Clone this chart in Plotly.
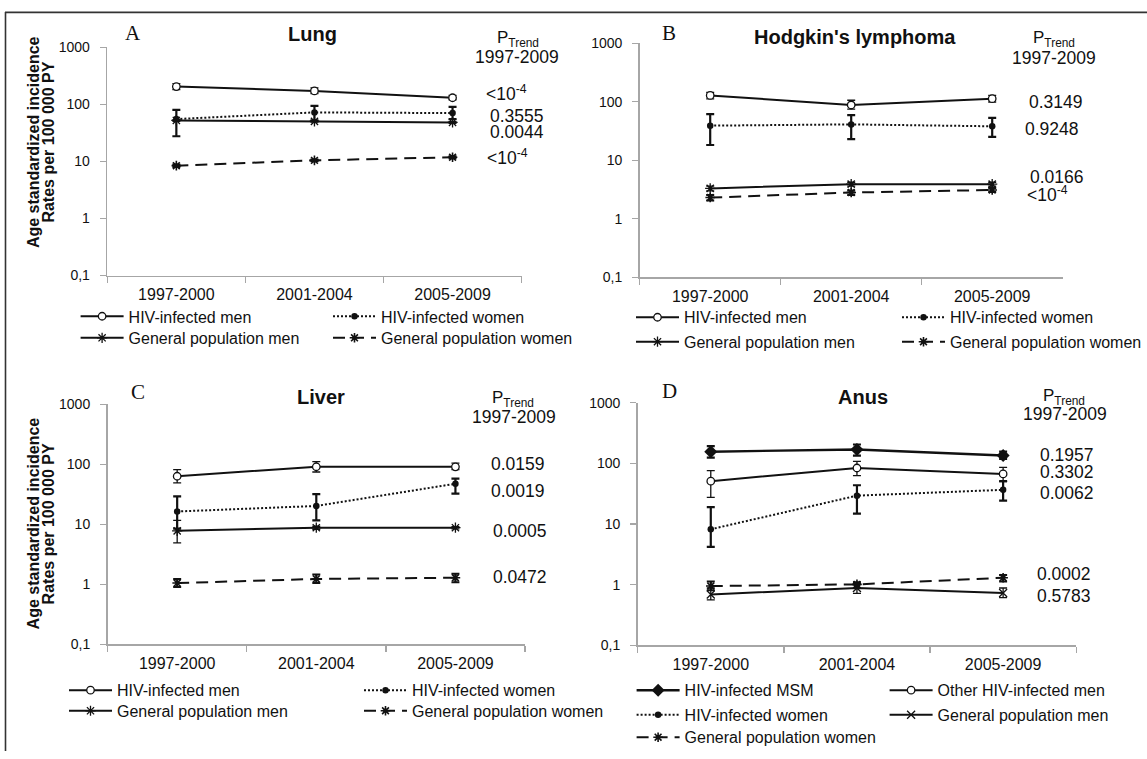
import plotly.graph_objects as go

W, H = 1147, 759

CATEGORIES = ["1997-2000", "2001-2004", "2005-2009"]
Y_TICK_VALUES = [0.1, 1, 10, 100, 1000]
Y_TICK_LABELS = ["0,1", "1", "10", "100", "1000"]

# ---------------- Panel A : Lung ----------------
LUNG_HIV_MEN = [204, 171, 130]
LUNG_HIV_MEN_LO = [181, 154, 119]
LUNG_HIV_MEN_HI = [229, 193, 143]
LUNG_HIV_WOMEN = [55, 72, 70]
LUNG_HIV_WOMEN_LO = [27.5, 52, 55]
LUNG_HIV_WOMEN_HI = [80, 94, 90]
LUNG_GP_MEN = [52, 50, 48]
LUNG_GP_MEN_LO = [50, 48.5, 46.5]
LUNG_GP_MEN_HI = [54, 51.5, 49.5]
LUNG_GP_WOMEN = [8.4, 10.4, 11.8]
LUNG_GP_WOMEN_LO = [8.0, 10.0, 11.3]
LUNG_GP_WOMEN_HI = [8.8, 10.8, 12.3]
LUNG_PTREND = ["<10<sup>-4</sup>", "0.3555", "0.0044", "<10<sup>-4</sup>"]

# ---------------- Panel B : Hodgkin's lymphoma ----------------
HL_HIV_MEN = [128, 88, 113]
HL_HIV_MEN_LO = [112, 75, 99]
HL_HIV_MEN_HI = [145, 106, 128]
HL_HIV_WOMEN = [39, 41, 38]
HL_HIV_WOMEN_LO = [18.2, 22.9, 25]
HL_HIV_WOMEN_HI = [61.6, 59, 52.8]
HL_GP_MEN = [3.3, 3.9, 3.9]
HL_GP_MEN_LO = [3.0, 3.6, 3.6]
HL_GP_MEN_HI = [3.6, 4.2, 4.2]
HL_GP_WOMEN = [2.3, 2.8, 3.1]
HL_GP_WOMEN_LO = [2.05, 2.55, 2.85]
HL_GP_WOMEN_HI = [2.55, 3.05, 3.35]
HL_PTREND = ["0.3149", "0.9248", "0.0166", "<10<sup>-4</sup>"]

# ---------------- Panel C : Liver ----------------
LIV_HIV_MEN = [63.5, 91.4, 91]
LIV_HIV_MEN_LO = [49.4, 74.7, 81.6]
LIV_HIV_MEN_HI = [81.6, 111.6, 104.8]
LIV_HIV_WOMEN = [16.4, 20.3, 47.6]
LIV_HIV_WOMEN_LO = [8.5, 11.7, 32.7]
LIV_HIV_WOMEN_HI = [29.2, 31.9, 58]
LIV_GP_MEN = [7.8, 8.8, 8.8]
LIV_GP_MEN_LO = [4.9, 8.3, 8.4]
LIV_GP_MEN_HI = [11.7, 9.3, 9.2]
LIV_GP_WOMEN = [1.05, 1.23, 1.29]
LIV_GP_WOMEN_LO = [0.9, 1.05, 1.08]
LIV_GP_WOMEN_HI = [1.23, 1.46, 1.5]
LIV_PTREND = ["0.0159", "0.0019", "0.0005", "0.0472"]

# ---------------- Panel D : Anus ----------------
AN_HIV_MSM = [156, 170, 135]
AN_HIV_MSM_LO = [125, 134.6, 119]
AN_HIV_MSM_HI = [193, 205, 156]
AN_OTHER_MEN = [51, 84, 67]
AN_OTHER_MEN_LO = [27.6, 63, 50]
AN_OTHER_MEN_HI = [76, 107.7, 86]
AN_HIV_WOMEN = [8.2, 29.4, 36.7]
AN_HIV_WOMEN_LO = [4.2, 14.9, 24.4]
AN_HIV_WOMEN_HI = [19, 43.6, 51]
AN_GP_MEN = [0.69, 0.88, 0.73]
AN_GP_MEN_LO = [0.56, 0.72, 0.61]
AN_GP_MEN_HI = [0.88, 1.04, 0.88]
AN_GP_WOMEN = [0.95, 1.01, 1.3]
AN_GP_WOMEN_LO = [0.81, 0.88, 1.13]
AN_GP_WOMEN_HI = [1.13, 1.1, 1.45]
AN_PTREND = ["0.1957", "0.3302", "0.0062", "0.0002", "0.5783"]

NAME_HIV_MEN = "HIV-infected men"
NAME_HIV_WOMEN = "HIV-infected women"
NAME_GP_MEN = "General population men"
NAME_GP_WOMEN = "General population women"
NAME_MSM = "HIV-infected MSM"
NAME_OTHER = "Other HIV-infected men"

TITLES = ["Lung", "Hodgkin's lymphoma", "Liver", "Anus"]
LETTERS = ["A", "B", "C", "D"]
PTREND_HEAD = "P<sub>Trend</sub>"
PTREND_YEARS = "1997-2009"
YTITLE_1 = "Age standardized incidence"
YTITLE_2 = "Rates per 100 000 PY"

# ---------------- styles ----------------
INK = "#111111"
AXIS_GREY = "#a6a6a6"
FONT = "Liberation Sans"

STYLES = {
    "hiv_men": dict(line=dict(color=INK, width=2, dash="solid"),
                    marker=dict(symbol="circle", size=7.5, color="white", line=dict(color=INK, width=1.3)),
                    err=1.3),
    "hiv_women": dict(line=dict(color=INK, width=2, dash="2px,2px"),
                      marker=dict(symbol="circle", size=6.5, color=INK, line=dict(color=INK, width=0)),
                      err=2.2),
    "gp_men": dict(line=dict(color=INK, width=2, dash="solid"),
                   marker=dict(symbol="asterisk-open", size=8.5, color=INK, line=dict(color=INK, width=1.3)),
                   err=1.3),
    "gp_women": dict(line=dict(color=INK, width=2, dash="12px,7px"),
                     marker=dict(symbol="asterisk-open", size=8, color=INK, line=dict(color=INK, width=1.6)),
                     err=2.0),
    "msm": dict(line=dict(color=INK, width=2.4, dash="solid"),
                marker=dict(symbol="diamond", size=10, color=INK, line=dict(color=INK, width=0)),
                err=2.2),
    "gp_men_x": dict(line=dict(color=INK, width=2, dash="solid"),
                     marker=dict(symbol="x-thin-open", size=8, color=INK, line=dict(color=INK, width=1.3)),
                     err=1.3),
}

# panel geometry in pixels (left, right, top, bottom)
PANEL_BOX = [
    (107.3, 521.6, 40.0, 273.3),
    (639.7, 1062.7, 36.0, 275.0),
    (107.6, 525.0, 405.0, 650.0),
    (637.7, 1076.2, 403.3, 651.0),
]

PANELS = [
    dict(series=[
        (NAME_HIV_MEN, "hiv_men", LUNG_HIV_MEN, LUNG_HIV_MEN_LO, LUNG_HIV_MEN_HI),
        (NAME_HIV_WOMEN, "hiv_women", LUNG_HIV_WOMEN, LUNG_HIV_WOMEN_LO, LUNG_HIV_WOMEN_HI),
        (NAME_GP_MEN, "gp_men", LUNG_GP_MEN, LUNG_GP_MEN_LO, LUNG_GP_MEN_HI),
        (NAME_GP_WOMEN, "gp_women", LUNG_GP_WOMEN, LUNG_GP_WOMEN_LO, LUNG_GP_WOMEN_HI),
    ], ptrend=LUNG_PTREND),
    dict(series=[
        (NAME_HIV_MEN, "hiv_men", HL_HIV_MEN, HL_HIV_MEN_LO, HL_HIV_MEN_HI),
        (NAME_HIV_WOMEN, "hiv_women", HL_HIV_WOMEN, HL_HIV_WOMEN_LO, HL_HIV_WOMEN_HI),
        (NAME_GP_MEN, "gp_men", HL_GP_MEN, HL_GP_MEN_LO, HL_GP_MEN_HI),
        (NAME_GP_WOMEN, "gp_women", HL_GP_WOMEN, HL_GP_WOMEN_LO, HL_GP_WOMEN_HI),
    ], ptrend=HL_PTREND),
    dict(series=[
        (NAME_HIV_MEN, "hiv_men", LIV_HIV_MEN, LIV_HIV_MEN_LO, LIV_HIV_MEN_HI),
        (NAME_HIV_WOMEN, "hiv_women", LIV_HIV_WOMEN, LIV_HIV_WOMEN_LO, LIV_HIV_WOMEN_HI),
        (NAME_GP_MEN, "gp_men", LIV_GP_MEN, LIV_GP_MEN_LO, LIV_GP_MEN_HI),
        (NAME_GP_WOMEN, "gp_women", LIV_GP_WOMEN, LIV_GP_WOMEN_LO, LIV_GP_WOMEN_HI),
    ], ptrend=LIV_PTREND),
    dict(series=[
        (NAME_MSM, "msm", AN_HIV_MSM, AN_HIV_MSM_LO, AN_HIV_MSM_HI),
        (NAME_OTHER, "hiv_men", AN_OTHER_MEN, AN_OTHER_MEN_LO, AN_OTHER_MEN_HI),
        (NAME_HIV_WOMEN, "hiv_women", AN_HIV_WOMEN, AN_HIV_WOMEN_LO, AN_HIV_WOMEN_HI),
        (NAME_GP_MEN, "gp_men_x", AN_GP_MEN, AN_GP_MEN_LO, AN_GP_MEN_HI),
        (NAME_GP_WOMEN, "gp_women", AN_GP_WOMEN, AN_GP_WOMEN_LO, AN_GP_WOMEN_HI),
    ], ptrend=AN_PTREND),
]

# legend slot per series: (line start x, row centre y)
LEGEND_SLOTS = [
    [(80.6, 315), (333, 315), (80.6, 337), (333, 337)],
    [(636, 316), (902, 316), (636, 341), (902, 341)],
    [(69, 697), (364, 697), (69, 718), (364, 718)],
    [(636.6, 697), (889.6, 697), (636.6, 722), (889.6, 722), (636.6, 745)],
]

# text positions (px)
LETTER_POS = [(133, 26), (668.6, 26), (137.6, 392), (669, 391)]
TITLE_POS = [(312.6, 27), (854.8, 30), (321, 397), (863.4, 397)]
PHEAD_POS = [(518, 32), (1054, 32), (513, 399), (1064, 397)]
PYEARS_POS = [(517, 50), (1054, 51), (514, 418), (1064.6, 415)]
PVAL_POS = [
    [(506, 87), (517, 110), (517, 127), (507, 152)],
    [(1055.5, 96), (1052, 124), (1057, 173), (1047, 190)],
    [(518, 466), (518, 493), (520, 534), (520, 581)],
    [(1067, 457), (1067, 474), (1067, 495), (1063.5, 578), (1063.5, 601)],
]
YTITLE_POS = [((33, 137), (48.5, 137)), ((33.5, 527), (48.5, 527))]


def fx(x):
    return x / W


def fy(y):
    return 1 - y / H


fig = go.Figure()
layout = dict(
    width=W, height=H,
    margin=dict(l=0, r=0, t=0, b=0),
    paper_bgcolor="white", plot_bgcolor="white",
    font=dict(family=FONT, color=INK, size=16),
    showlegend=True,
)

legend_count = 0
for p, panel in enumerate(PANELS):
    ax = "" if p == 0 else str(p + 1)
    left, right, top, bottom = PANEL_BOX[p]
    layout["xaxis" + ax] = dict(
        domain=[fx(left), fx(right)], anchor="y" + ax,
        type="category", categoryorder="array", categoryarray=CATEGORIES,
        range=[-0.5, 2.5], tickson="boundaries",
        ticks="outside", ticklen=6, tickwidth=1.3, tickcolor=AXIS_GREY,
        showline=True, linecolor=AXIS_GREY, linewidth=1.6,
        showgrid=False, zeroline=False, fixedrange=True,
        tickfont=dict(family=FONT, size=16, color=INK), ticklabelstandoff=4,
    )
    layout["yaxis" + ax] = dict(
        domain=[fy(bottom), fy(top)], anchor="x" + ax,
        type="log", range=[-1, 3],
        tickvals=Y_TICK_VALUES, ticktext=Y_TICK_LABELS,
        ticks="outside", ticklen=6, tickwidth=1.3, tickcolor=AXIS_GREY,
        showline=True, linecolor=AXIS_GREY, linewidth=1.6,
        showgrid=False, zeroline=False, fixedrange=True,
        tickfont=dict(family=FONT, size=14, color=INK), ticklabelstandoff=7,
    )
    for s, (name, style_key, vals, lo, hi) in enumerate(panel["series"]):
        st = STYLES[style_key]
        legend_count += 1
        lid = "legend" if legend_count == 1 else "legend%d" % legend_count
        fig.add_trace(go.Scatter(
            x=CATEGORIES, y=vals, name=name, mode="lines+markers",
            xaxis="x" + ax, yaxis="y" + ax,
            line=st["line"], marker=st["marker"],
            error_y=dict(type="data", symmetric=False,
                         array=[h - v for h, v in zip(hi, vals)],
                         arrayminus=[v - l for v, l in zip(vals, lo)],
                         color=INK, thickness=st["err"], width=4),
            legend=lid, showlegend=True, hoverinfo="skip",
        ))
        lx, ly = LEGEND_SLOTS[p][s]
        layout[lid] = dict(
            x=fx(lx - 5), y=fy(ly), xanchor="left", yanchor="middle",
            orientation="h", bgcolor="rgba(0,0,0,0)", borderwidth=0,
            font=dict(family=FONT, size=16, color=INK),
            itemwidth=43, itemclick=False, itemdoubleclick=False,
        )

annotations = []


def add_text(text, pos, size, family=FONT, bold=False, angle=0):
    t = "<b>%s</b>" % text if bold else text
    annotations.append(dict(
        text=t, x=fx(pos[0]), y=fy(pos[1]), xref="paper", yref="paper",
        xanchor="center", yanchor="middle", showarrow=False, textangle=angle,
        font=dict(family=family, size=size, color=INK),
    ))


for p in range(4):
    add_text(LETTERS[p], LETTER_POS[p], 21, family="Liberation Serif")
    add_text(TITLES[p], TITLE_POS[p], 20, bold=True)
    add_text(PTREND_HEAD, PHEAD_POS[p], 17)
    add_text(PTREND_YEARS, PYEARS_POS[p], 17.5)
    for txt, pos in zip(PANELS[p]["ptrend"], PVAL_POS[p]):
        add_text(txt, pos, 17.5)

for (p1, p2) in YTITLE_POS:
    add_text(YTITLE_1, p1, 16, bold=True, angle=-90)
    add_text(YTITLE_2, p2, 16, bold=True, angle=-90)

layout["annotations"] = annotations
layout["shapes"] = [
    dict(type="line", xref="paper", yref="paper", x0=fx(5), x1=1, y0=fy(4.5), y1=fy(4.5),
         line=dict(color="#333333", width=1.6)),
    dict(type="line", xref="paper", yref="paper", x0=fx(5.5), x1=fx(5.5), y0=fy(4), y1=0,
         line=dict(color="#333333", width=1.6)),
]

fig.update_layout(**layout)
fig.write_html(
    "out.html",
    config={"displayModeBar": False, "staticPlot": True},
    post_script="document.body.style.margin='0px';document.body.style.overflow='hidden';",
)
